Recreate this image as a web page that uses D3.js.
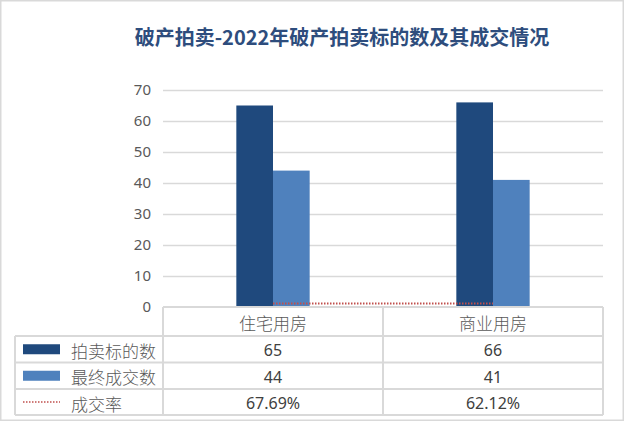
<!DOCTYPE html>
<html><head><meta charset="utf-8">
<script src="https://cdn.jsdelivr.net/npm/d3@7"></script>
<style>
html,body{margin:0;padding:0;background:#fff;}
svg{display:block;}
</style></head>
<body>
<svg id="chart" width="626" height="422"></svg>
<script>
const title = "破产拍卖-2022年破产拍卖标的数及其成交情况";
const categories = ["住宅用房", "商业用房"];
const seriesNames = ["拍卖标的数", "最终成交数", "成交率"];
const bidCounts = [65, 66];
const dealCounts = [44, 41];
const dealRates = [0.6769, 0.6212];
const dealRateLabels = ["67.69%", "62.12%"];
const yTicks = [0, 10, 20, 30, 40, 50, 60, 70];

(function () {
const colors = ["#1F497D", "#4F81BD", "#C0504D"];
const gridColor = "#D9D9D9";
const svg = d3.select("#chart");
const cjk = "'Noto Sans CJK SC','Noto Sans',sans-serif";
const num = "'Noto Sans','DejaVu Sans',sans-serif";

// outer frame
svg.append("rect").attr("x", 0.75).attr("y", 0.75).attr("width", 622.5).attr("height", 419.5)
  .attr("fill", "#fff").attr("stroke", gridColor).attr("stroke-width", 1.5);

// title
svg.append("text").attr("x", 342).attr("y", 36).attr("text-anchor", "middle")
  .attr("dominant-baseline", "central").attr("font-family", cjk).attr("font-weight", "bold")
  .attr("font-size", 20).attr("fill", "#2E4D7D").text(title);

const pL = 163, pR = 603, pT = 90, pB = 307;
const x0 = d3.scaleBand().domain(categories).range([pL, pR]).paddingInner(0).paddingOuter(0);
const x1 = d3.scaleBand().domain([0, 1]).range([0, x0.bandwidth()]).paddingInner(0).paddingOuter(2);
const y = d3.scaleLinear().domain([0, 70]).range([pB, pT]);

// gridlines
const grid = svg.append("g").attr("transform", `translate(${pL},0)`)
  .call(d3.axisLeft(y).tickValues(yTicks.filter(t => t > 0)).tickSize(-(pR - pL)).tickFormat(""));
grid.select(".domain").remove();
grid.selectAll("line").attr("stroke", gridColor).attr("stroke-width", 1.5);

// y labels
const yAx = svg.append("g").attr("transform", `translate(${pL - 12},0)`)
  .call(d3.axisLeft(y).tickValues(yTicks).tickSize(0).tickPadding(0));
yAx.select(".domain").remove();
yAx.selectAll("text").attr("font-family", num).attr("font-size", 15).attr("fill", "#595959");

// bars
const seriesVals = [bidCounts, dealCounts];
seriesVals.forEach((vals, si) => {
  svg.append("g").selectAll("rect").data(vals).join("rect")
    .attr("x", (d, i) => x0(categories[i]) + x1(si))
    .attr("width", x1.bandwidth())
    .attr("y", d => y(d))
    .attr("height", d => y(0) - y(d))
    .attr("fill", colors[si]);
});

// rate line (plotted on same axis, near zero)
const line = d3.line().x((d, i) => x0(categories[i]) + x0.bandwidth() / 2).y(d => y(d) - 1.5);
svg.append("path").datum(dealRates).attr("d", line).attr("fill", "none")
  .attr("stroke", colors[2]).attr("stroke-width", 2).attr("stroke-dasharray", "1.5,1.5");

// data table
const legendLeft = 15;
const rowY = [307, 336, 362.5, 389, 415];
const tbl = svg.append("g").attr("stroke", gridColor).attr("stroke-width", 2);
tbl.append("line").attr("x1", pL).attr("x2", pR).attr("y1", rowY[0]).attr("y2", rowY[0]);
rowY.slice(1).forEach(yy => tbl.append("line").attr("x1", legendLeft).attr("x2", pR).attr("y1", yy).attr("y2", yy));
tbl.append("line").attr("x1", legendLeft).attr("x2", legendLeft).attr("y1", rowY[1]).attr("y2", rowY[4]);
[pL, x0(categories[1]), pR].forEach(xx =>
  tbl.append("line").attr("x1", xx).attr("x2", xx).attr("y1", rowY[0]).attr("y2", rowY[4]));

// header row
svg.append("g").selectAll("text").data(categories).join("text")
  .attr("x", d => x0(d) + x0.bandwidth() / 2).attr("y", (rowY[0] + rowY[1]) / 2 + 1)
  .attr("text-anchor", "middle").attr("dominant-baseline", "central")
  .attr("font-family", cjk).attr("font-size", 17).attr("font-weight", 300).attr("fill", "#595959")
  .text(d => d);

const rowLabels = [bidCounts.map(String), dealCounts.map(String), dealRateLabels];
rowLabels.forEach((labels, ri) => {
  const cy = (rowY[ri + 1] + rowY[ri + 2]) / 2;
  if (ri < 2) {
    svg.append("rect").attr("x", 23).attr("y", cy - 5).attr("width", 37).attr("height", 10).attr("fill", colors[ri]);
  } else {
    svg.append("line").attr("x1", 23).attr("x2", 60).attr("y1", cy).attr("y2", cy)
      .attr("stroke", colors[2]).attr("stroke-width", 1.5).attr("stroke-dasharray", "1.5,1.5");
  }
  svg.append("text").attr("x", 71).attr("y", cy + 1).attr("dominant-baseline", "central")
    .attr("font-family", cjk).attr("font-size", 17).attr("font-weight", 300).attr("fill", "#595959")
    .text(seriesNames[ri]);
  svg.append("g").selectAll("text").data(labels).join("text")
    .attr("x", (d, i) => x0(categories[i]) + x0.bandwidth() / 2).attr("y", cy + 1)
    .attr("text-anchor", "middle").attr("dominant-baseline", "central")
    .attr("font-family", num).attr("font-size", 16).attr("fill", "#404040").text(d => d);
});
})();
</script>
</body></html>
